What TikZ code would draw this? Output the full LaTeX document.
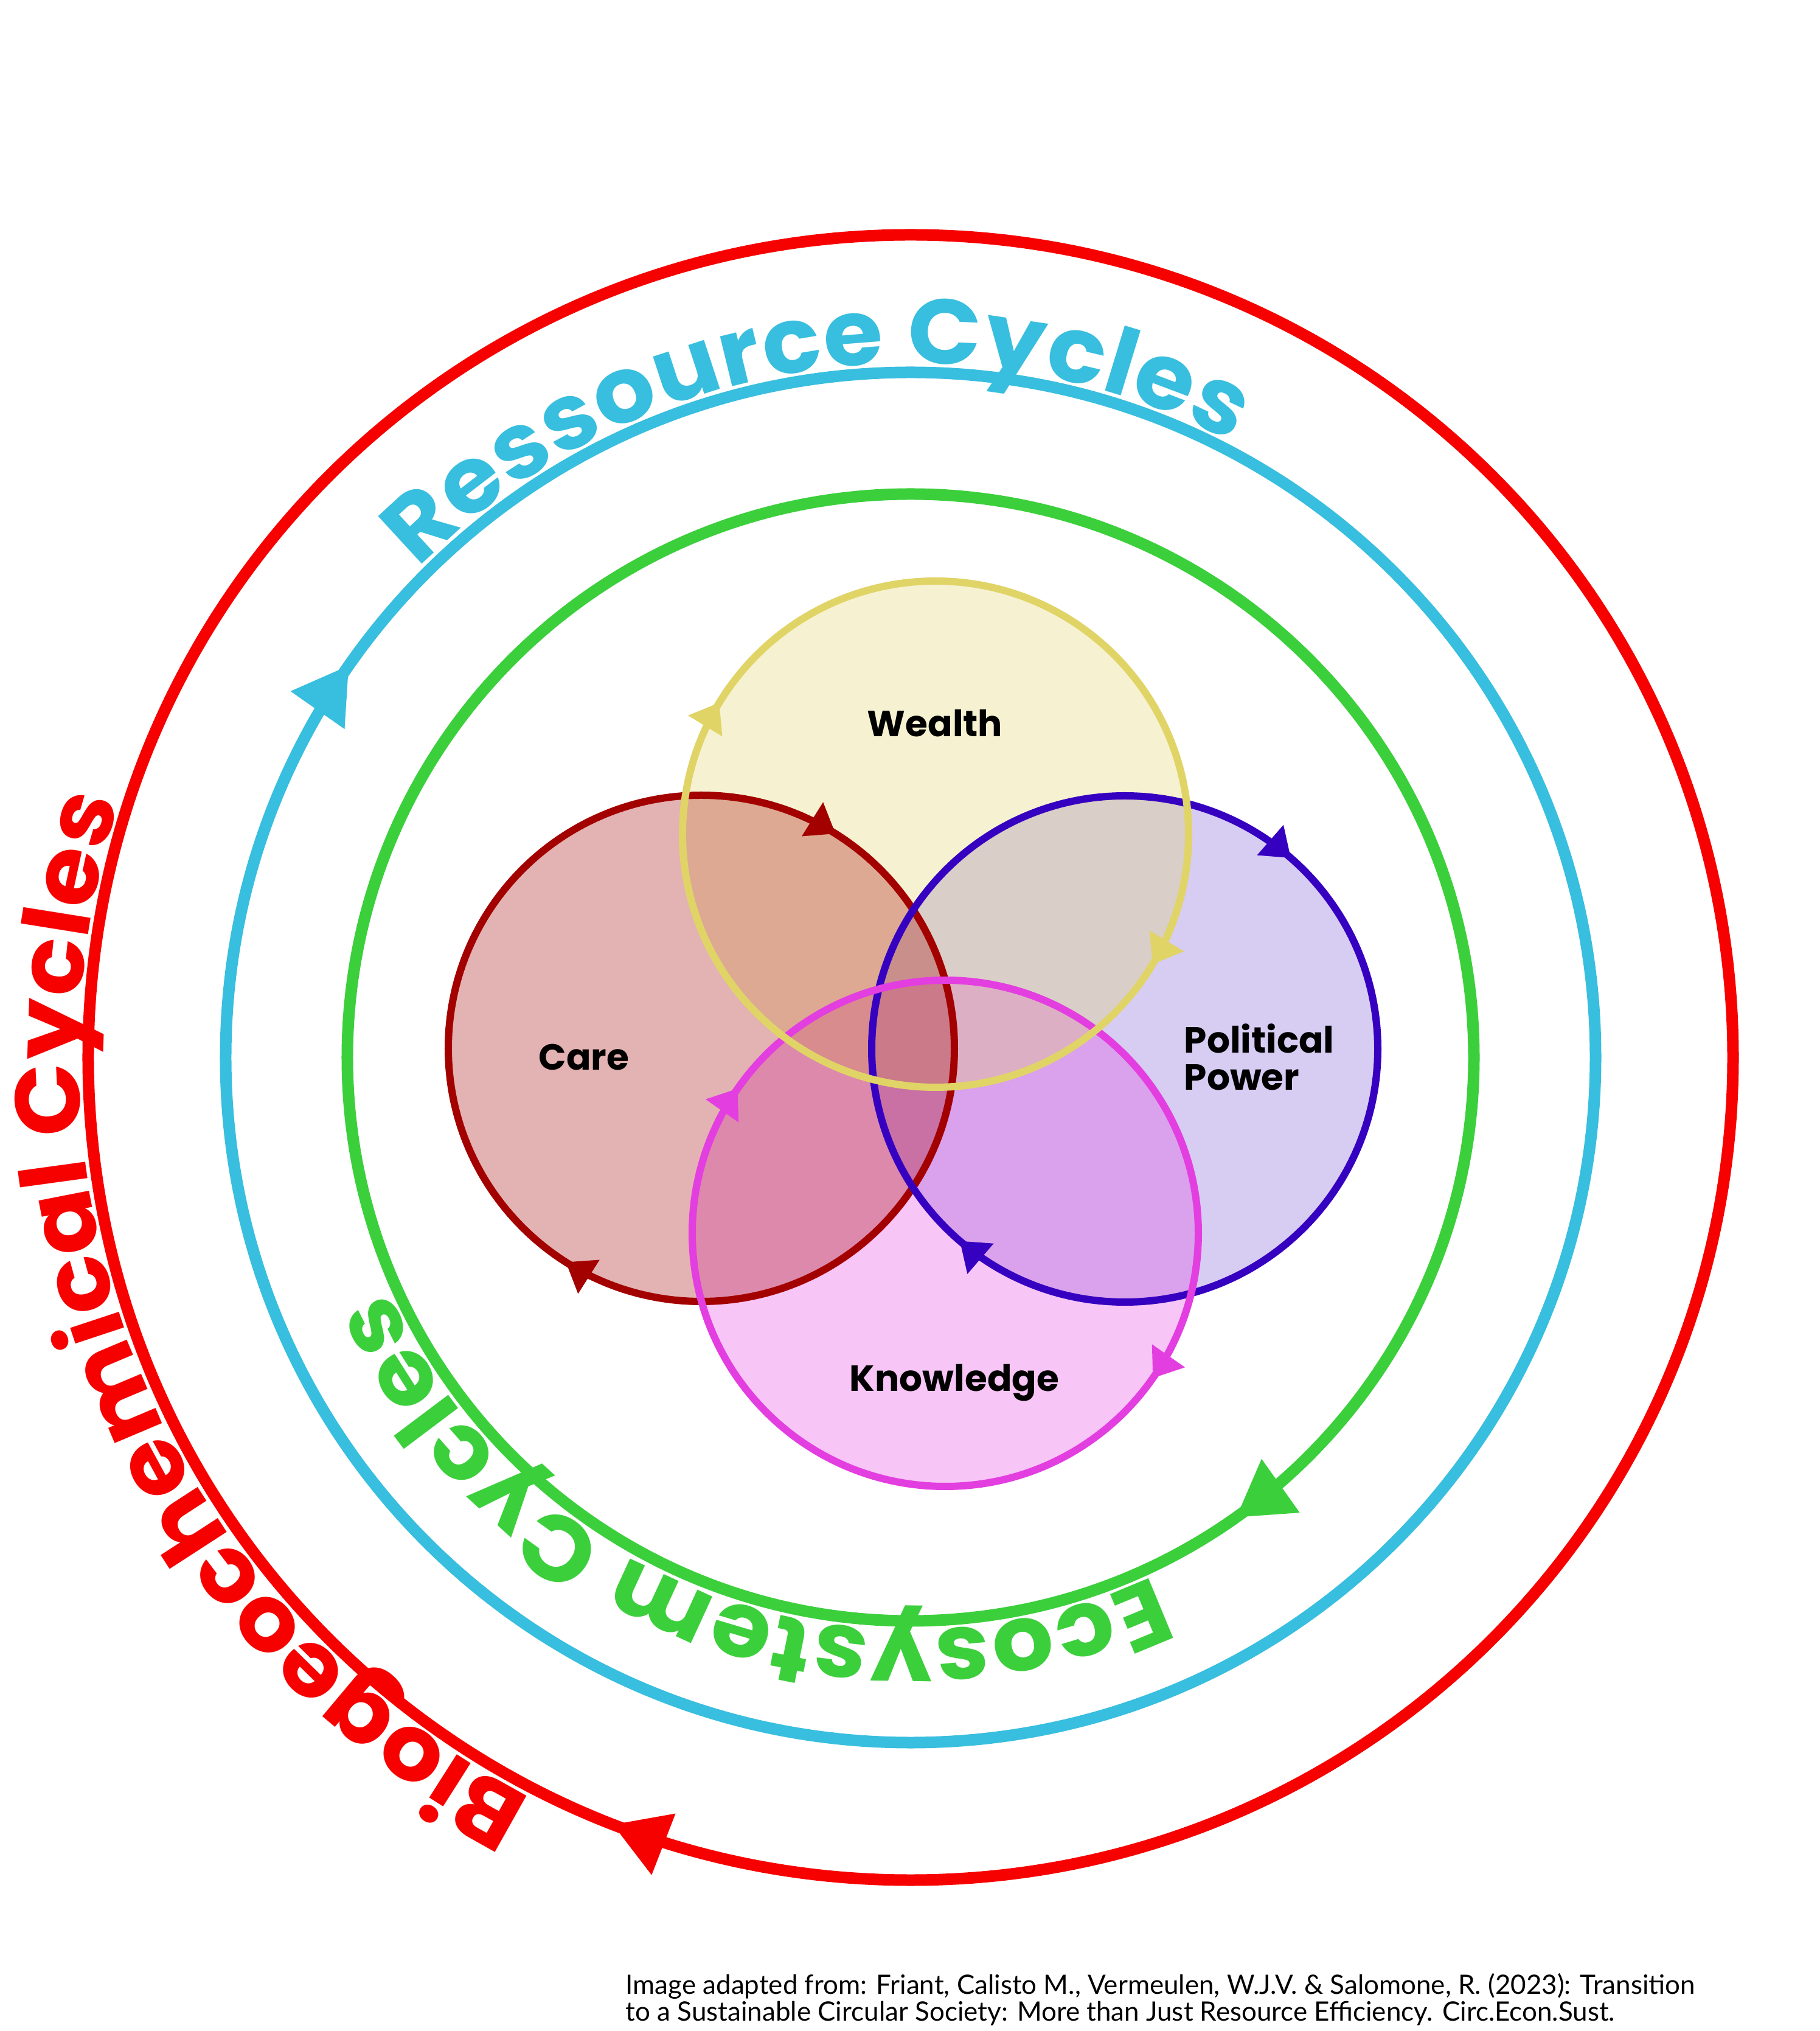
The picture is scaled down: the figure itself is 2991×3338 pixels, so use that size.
\documentclass[tikz,border=0pt]{standalone}
\usepackage{fontspec}
\usetikzlibrary{arrows.meta,decorations.markings,decorations.text}

\newfontfamily\cycfont{Poppins}[FakeStretch=1.05]
\newfontfamily\lblfont{Poppins}
\newfontfamily\credfont{Lato}
\newcommand\cyctext{\cycfont\bfseries\fontsize{43}{43}\selectfont}

\definecolor{bioRed}{RGB}{247,0,0}
\definecolor{resBlue}{RGB}{56,190,222}
\definecolor{ecoGreen}{RGB}{60,207,60}
\definecolor{wealthC}{RGB}{224,212,103}
\definecolor{careC}{RGB}{163,0,0}
\definecolor{powerC}{RGB}{53,0,192}
\definecolor{knowC}{RGB}{227,62,224}

\tikzset{
  bigring/.style={draw=#1, line width=1.9mm},
  smallring/.style={draw=#1, line width=1.2mm},
  bigtip/.style={postaction={decorate, decoration={markings,
      mark=at position #1 with {\arrow{Triangle[length=9mm, width=10.3mm]}}}}},
  smalltips/.style 2 args={postaction={decorate, decoration={markings,
      mark=at position #1 with {\arrow{Triangle[length=4.5mm, width=6.3mm]}},
      mark=at position #2 with {\arrow{Triangle[length=4.5mm, width=6.3mm]}}}}},
  cyclabel/.style 2 args={decorate, decoration={text along path, text align=center,
      raise=1.5mm, text color=#1, text={|\cyctext|#2}}},
  lbl/.style={font=\lblfont\bfseries\fontsize{17}{17.4}\selectfont, inner sep=0pt, text=black},
  credit/.style={font=\credfont\fontsize{12.5}{11}\selectfont, inner sep=0pt, text=black}
}

\begin{document}
\begin{tikzpicture}[x=0.1mm, y=0.1mm]
  \useasboundingbox (-1497,-1600) rectangle (1494,1738);
  \coordinate (O) at (0,0);
  \coordinate (cW) at (41,367);
  \coordinate (cC) at (-344,15);
  \coordinate (cP) at (352,14);
  \coordinate (cK) at (57,-289);

  % outer cycles
  \draw[bigring=bioRed, bigtip=0.309] (O) ++(0:1352) arc[start angle=0, end angle=-360, radius=1352];
  \draw[bigring=resBlue, bigtip=0.597] (O) ++(0:1126) arc[start angle=0, end angle=-360, radius=1126];
  \draw[bigring=ecoGreen, bigtip=0.152] (O) ++(0:926) arc[start angle=0, end angle=-360, radius=926];

  \path[cyclabel={bioRed}{Biogeochemical Cycles}] (O) ++(282.5:1352) arc[start angle=282.5, end angle=122.5, radius=1352];
  \path[cyclabel={resBlue}{Ressource Cycles}] (O) ++(178.8:1126) arc[start angle=178.8, end angle=18.8, radius=1126];
  \path[cyclabel={ecoGreen}{Ecosystem Cycles}] (O) ++(-30.4:926) arc[start angle=-30.4, end angle=-190.4, radius=926];

  % fills
  \fill[powerC, fill opacity=0.2] (cP) circle[radius=416];
  \fill[knowC, fill opacity=0.3] (cK) circle[radius=416];
  \fill[wealthC, fill opacity=0.3] (cW) circle[radius=416];
  \fill[careC, fill opacity=0.3] (cC) circle[radius=416];

  % rings
  \draw[smallring=careC, smalltips={0.340}{0.839}] (cC) ++(0:416) arc[start angle=0, end angle=-360, radius=416];
  \draw[smallring=powerC, smalltips={0.363}{0.864}] (cP) ++(0:416) arc[start angle=0, end angle=-360, radius=416];
  \draw[smallring=knowC, smalltips={0.097}{0.597}] (cK) ++(0:416) arc[start angle=0, end angle=-360, radius=416];
  \draw[smallring=wealthC, smalltips={0.086}{0.587}] (cW) ++(0:416) arc[start angle=0, end angle=-360, radius=416];

  \node[lbl, anchor=base] (wealth) at (40,527) {Wealth};
  \node[lbl, anchor=base] (care) at (-537,-21) {Care};
  \node[lbl, anchor=north west, align=left] (power) at (449,56) {Political\\Power};
  \node[lbl, anchor=base] (knowledge) at (72,-548) {Knowledge};

  \node[credit, anchor=north west, align=left] (credit) at (-469,-1505)
    {Image adapted from: Friant, Calisto M., Vermeulen, W.J.V. \& Salomone, R. (2023): Transition\\
     to a Sustainable Circular Society: More than Just Resource Efficiency. Circ.Econ.Sust.};
\end{tikzpicture}
\end{document}
